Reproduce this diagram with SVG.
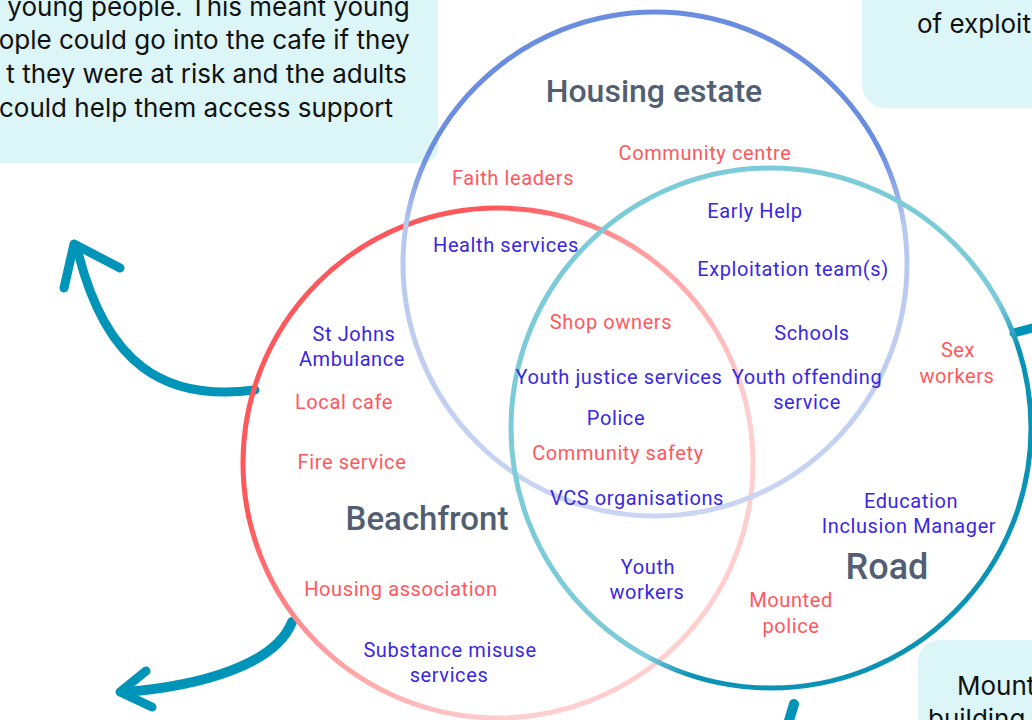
<svg xmlns="http://www.w3.org/2000/svg" width="1032" height="720" viewBox="0 0 1032 720">
  <defs>
    <linearGradient id="gradHousing" x1="0" y1="0" x2="0" y2="1">
      <stop offset="0.28" stop-color="#6a8ddf"/>
      <stop offset="0.42" stop-color="#b7c7ee"/>
      <stop offset="1" stop-color="#c9d5f3"/>
    </linearGradient>
    <linearGradient id="gradBeach" x1="0" y1="0" x2="1" y2="0.8">
      <stop offset="0.3" stop-color="#ff585c"/>
      <stop offset="0.5" stop-color="#ff9a9c"/>
      <stop offset="0.8" stop-color="#ffcfd0"/>
    </linearGradient>
    <linearGradient id="gradRoad" x1="0" y1="0" x2="1" y2="1">
      <stop offset="0" stop-color="#7ccbd9"/>
      <stop offset="0.6" stop-color="#7ccbd9"/>
      <stop offset="0.66" stop-color="#0b93b6"/>
      <stop offset="1" stop-color="#0b93b6"/>
    </linearGradient>
    <style>
      .box { fill: #dcf5f7; }
      .note { font-family: Inter, "Liberation Sans", sans-serif; font-size: 26px; fill: #111111; }
      .ring { fill: none; stroke-width: 5; }
      .title { font-family: Roboto, "Liberation Sans", sans-serif; font-weight: 500; fill: #525f72; text-anchor: middle; }
      .lbl { font-family: Roboto, "Liberation Sans", sans-serif; font-size: 20px; letter-spacing: 0.6px; text-anchor: middle; }
      .red { fill: #ff585c; }
      .blue { fill: #3a27e4; }
      .arrow { fill: none; stroke: #0095b8; stroke-linecap: round; stroke-linejoin: round; }
    </style>
  </defs>

  <!-- explanatory call-out boxes -->
  <g id="note-cafe">
    <rect class="box" x="-40" y="-40" width="478" height="203" rx="16"/>
    <text class="note" text-anchor="end">
      <tspan x="417" y="16">r young people. This meant young</tspan>
      <tspan x="417" y="49">ople could go into the cafe if they</tspan>
      <tspan x="414" y="83">t they were at risk and the adults</tspan>
      <tspan x="393" y="117">could help them access support</tspan>
    </text>
  </g>
  <g id="note-exploitation">
    <rect class="box" x="862" y="-40" width="220" height="148" rx="24"/>
    <text class="note" x="917" y="33">of exploit</text>
  </g>
  <g id="note-mounted">
    <rect class="box" x="918" y="640" width="160" height="120" rx="22"/>
    <text class="note" x="957" y="695">Mount</text>
    <text class="note" x="928" y="728">building</text>
  </g>

  <!-- connectors -->
  <g id="connectors">
    <path class="arrow" stroke-width="9" d="M 255 390 C 165 402, 105 365, 77 248"/>
    <path class="arrow" stroke-width="9" d="M 64 288 L 74 244 L 120 268"/>
    <path class="arrow" stroke-width="10" d="M 292 622 C 275 665, 200 686, 125 692"/>
    <path class="arrow" stroke-width="9" d="M 146 671 L 120 692 L 152 707"/>
    <path class="arrow" stroke-width="10" d="M 794 704 L 788 724"/>
    <path class="arrow" stroke-width="9" d="M 1014 333 L 1036 327"/>
  </g>

  <!-- zones -->
  <g id="zone-beachfront">
    <circle class="ring" cx="498" cy="463" r="255" stroke="url(#gradBeach)"/>
    <text class="title" x="427" y="530" font-size="33">Beachfront</text>
  </g>
  <g id="zone-housing">
    <circle class="ring" cx="655" cy="264" r="252" stroke="url(#gradHousing)"/>
    <text class="title" x="654" y="102" font-size="32">Housing estate</text>
  </g>
  <g id="zone-road">
    <circle class="ring" cx="771" cy="428" r="260" stroke="url(#gradRoad)"/>
    <text class="title" x="887" y="579" font-size="36" font-weight="400">Road</text>
  </g>

  <!-- services -->
  <g id="faith-leaders"><text class="lbl red" x="513" y="185">Faith leaders</text></g>
  <g id="community-centre"><text class="lbl red" x="705" y="160">Community centre</text></g>
  <g id="early-help"><text class="lbl blue" x="755" y="218">Early Help</text></g>
  <g id="health-services"><text class="lbl blue" x="506" y="252">Health services</text></g>
  <g id="exploitation-teams"><text class="lbl blue" x="793" y="276">Exploitation team(s)</text></g>
  <g id="shop-owners"><text class="lbl red" x="611" y="329">Shop owners</text></g>
  <g id="schools"><text class="lbl blue" x="812" y="340">Schools</text></g>
  <g id="st-johns"><text class="lbl blue" x="354" y="341">St Johns<tspan x="352" y="366">Ambulance</tspan></text></g>
  <g id="sex-workers"><text class="lbl red" x="958" y="357">Sex<tspan x="957" y="383">workers</tspan></text></g>
  <g id="youth-justice"><text class="lbl blue" x="619" y="384">Youth justice services</text></g>
  <g id="youth-offending"><text class="lbl blue" x="807" y="384">Youth offending<tspan x="807" y="409">service</tspan></text></g>
  <g id="local-cafe"><text class="lbl red" x="344" y="409">Local cafe</text></g>
  <g id="police"><text class="lbl blue" x="616" y="425">Police</text></g>
  <g id="community-safety"><text class="lbl red" x="618" y="460">Community safety</text></g>
  <g id="fire-service"><text class="lbl red" x="352" y="469">Fire service</text></g>
  <g id="vcs"><text class="lbl blue" x="637" y="505">VCS organisations</text></g>
  <g id="education-inclusion"><text class="lbl blue" x="911" y="508">Education<tspan x="909" y="533">Inclusion Manager</tspan></text></g>
  <g id="youth-workers"><text class="lbl blue" x="648" y="574">Youth<tspan x="647" y="599">workers</tspan></text></g>
  <g id="housing-association"><text class="lbl red" x="401" y="596">Housing association</text></g>
  <g id="mounted-police"><text class="lbl red" x="791" y="607">Mounted<tspan x="791" y="633">police</tspan></text></g>
  <g id="substance-misuse"><text class="lbl blue" x="450" y="657">Substance misuse<tspan x="449" y="682">services</tspan></text></g>
</svg>
